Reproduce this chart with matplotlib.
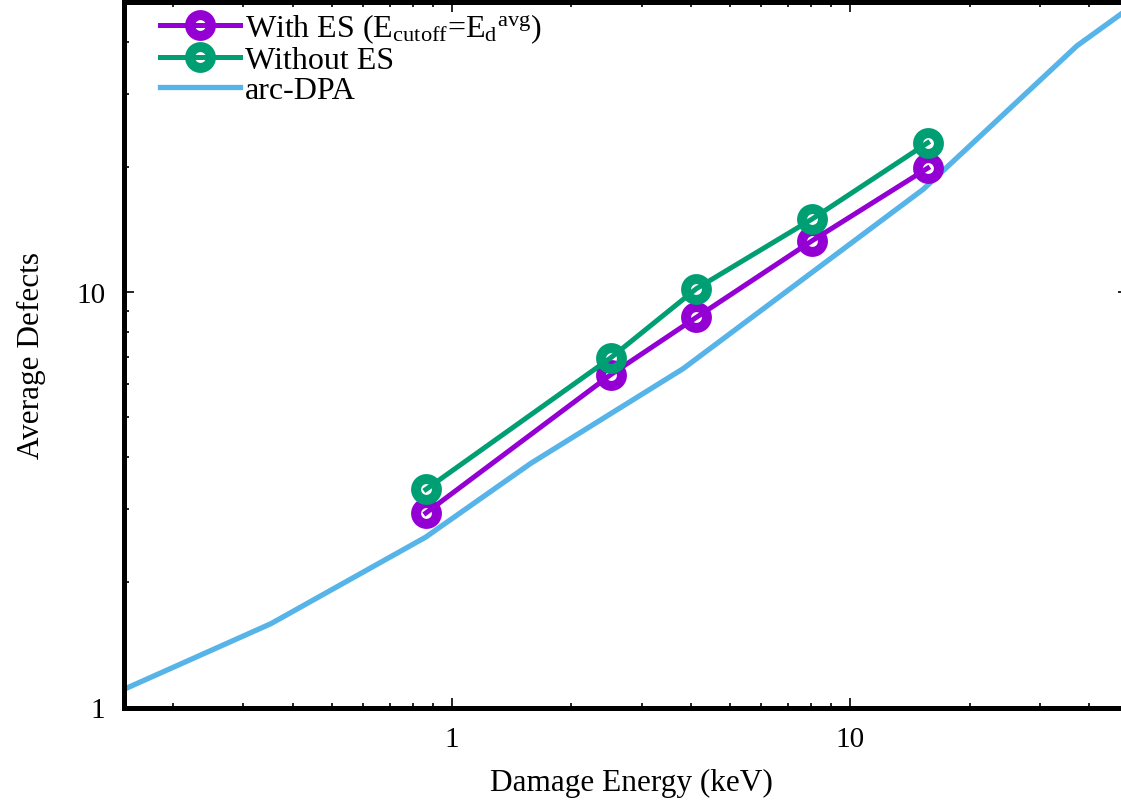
import matplotlib
matplotlib.use("Agg")
import matplotlib.pyplot as plt
from matplotlib.ticker import LogLocator, NullFormatter, FixedLocator, FixedFormatter

plt.rcParams['font.family'] = ['Liberation Serif', 'DejaVu Serif']
plt.rcParams['mathtext.fontset'] = 'custom'
plt.rcParams['mathtext.rm'] = 'Liberation Serif'
plt.rcParams['mathtext.it'] = 'Liberation Serif:italic'

# Data
energy_es = [0.862, 2.51, 4.12, 8.04, 15.7]
defects_with_es = [2.94, 6.33, 8.70, 13.3, 19.9]
defects_without_es = [3.35, 6.95, 10.2, 15.0, 22.9]

energy_arc = [0.151, 0.352, 0.86, 1.58, 3.82, 15.3, 37.2, 50.0]
defects_arc = [1.108, 1.592, 2.57, 3.87, 6.55, 17.7, 39.2, 48.1]

xticks = [1, 10]
yticks = [1, 10]

W, H = 1121, 804
fig = plt.figure(figsize=(W / 100, H / 100), dpi=100)
ax_l, ax_r, ax_b, ax_t = 123.5, 1128.0, 708.5, 3.0
ax = fig.add_axes([ax_l / W, (H - ax_b) / H, (ax_r - ax_l) / W, (ax_b - ax_t) / H])

purple = '#9400D3'
green = '#009E73'
blue = '#56B4E9'

ax.plot(energy_es, defects_with_es, color=purple, lw=3.6, marker='o',
        markersize=15, markerfacecolor='none', markeredgewidth=7.2,
        markeredgecolor=purple,
        label=r'With ES (E$_{\mathrm{cutoff}}$=E$_{\mathrm{d}}$$^{\mathrm{avg}}$)', zorder=3)
ax.plot(energy_es, defects_without_es, color=green, lw=3.6, marker='o',
        markersize=15, markerfacecolor='none', markeredgewidth=7.2,
        markeredgecolor=green, label='Without ES', zorder=3)
ax.plot(energy_arc, defects_arc, color=blue, lw=3.8, label='arc-DPA', zorder=2)

ax.set_xscale('log')
ax.set_yscale('log')
ax.set_xlim(0.15, 50)
ax.set_ylim(1, 50)

ax.xaxis.set_major_locator(FixedLocator(xticks))
ax.xaxis.set_major_formatter(FixedFormatter([str(t) for t in xticks]))
ax.yaxis.set_major_locator(FixedLocator(yticks))
ax.yaxis.set_major_formatter(FixedFormatter([str(t) for t in yticks]))
ax.xaxis.set_minor_locator(LogLocator(base=10, subs=range(2, 10)))
ax.yaxis.set_minor_locator(LogLocator(base=10, subs=range(2, 10)))
ax.xaxis.set_minor_formatter(NullFormatter())
ax.yaxis.set_minor_formatter(NullFormatter())

ax.tick_params(which='both', direction='in', top=True, right=True, width=1.2, colors='black')
ax.tick_params(which='major', length=7, pad=13, labelsize=21)
ax.tick_params(which='minor', length=3.5)
for s in ax.spines.values():
    s.set_linewidth(3.6)

ax.set_xlabel('Damage Energy (keV)', fontsize=22.5)
ax.xaxis.set_label_coords((631 - ax_l) / (ax_r - ax_l), -0.086)
ax.set_ylabel('Average Defects', fontsize=22.5, labelpad=22)

leg = ax.legend(loc='upper left', bbox_to_anchor=(0.0363, 1.0 - 9 / 705), frameon=False,
                fontsize=23, handlelength=2.5, handletextpad=0.15,
                labelspacing=0.03, borderpad=0.0, borderaxespad=0.0, numpoints=1)

fig.savefig('out.png', dpi=100)
